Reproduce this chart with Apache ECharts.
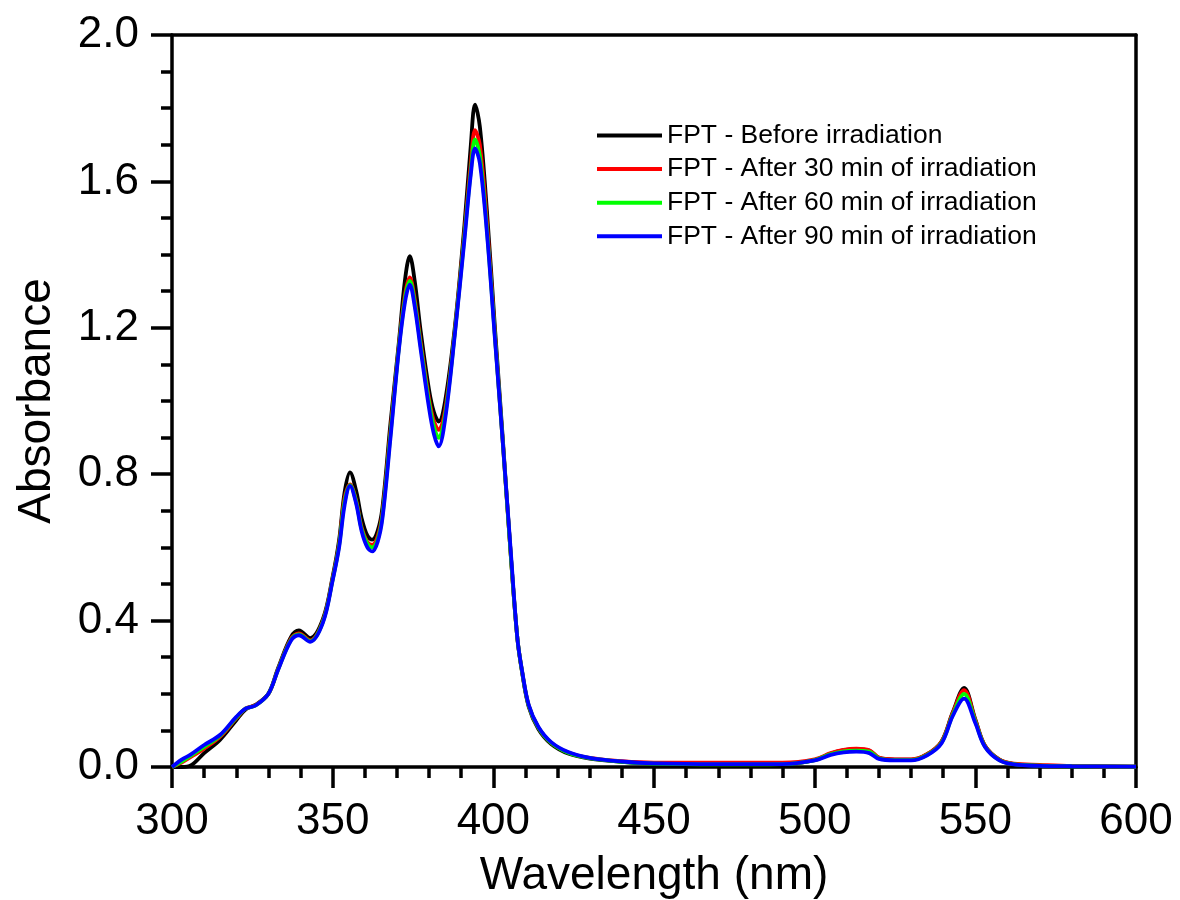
<!DOCTYPE html>
<html>
<head>
<meta charset="utf-8">
<script src="https://cdn.jsdelivr.net/npm/echarts@6/dist/echarts.min.js"></script>
<style>
html,body{margin:0;padding:0;background:#fff;}
#chart{width:1180px;height:900px;}
</style>
</head>
<body>
<div id="chart"></div>
<script>
const seriesNames = ['FPT - Before irradiation','FPT - After 30 min of irradiation','FPT - After 60 min of irradiation','FPT - After 90 min of irradiation'];
const wavelength = [300,303,306,310,315,320,323,326,330,333,337,339.5,343,347,350,352,353.7,355.4,357.3,359,360.8,362.3,364,365.5,368,370.6,372.5,374,375.5,377.4,380,381.5,383,385,388,391,393,394.3,395.8,398,400.5,403,405.5,407.5,409,411,414,418,423.5,430,440,450,470,490,500,505,509,513,517,520,525,530,535,539.5,543,546.5,550,553,557.5,562,570,580,600];
const before = [0,0,0.005,0.038,0.075,0.128,0.158,0.17,0.2,0.27,0.355,0.373,0.352,0.405,0.52,0.62,0.75,0.805,0.755,0.68,0.632,0.621,0.645,0.71,0.94,1.16,1.33,1.396,1.33,1.19,1.03,0.97,0.944,1.0,1.2,1.48,1.7,1.81,1.75,1.52,1.2,0.89,0.57,0.35,0.256,0.165,0.104,0.063,0.036,0.023,0.014,0.009,0.007,0.008,0.019,0.037,0.046,0.049,0.045,0.025,0.02,0.02,0.035,0.07,0.15,0.216,0.13,0.058,0.02,0.008,0.004,0.002,0.001];
const after30 = [0,0.012,0.028,0.05,0.083,0.133,0.16,0.169,0.2,0.267,0.35,0.365,0.346,0.4,0.515,0.61,0.735,0.772,0.728,0.655,0.615,0.607,0.63,0.695,0.92,1.15,1.29,1.338,1.28,1.16,1.005,0.945,0.921,0.975,1.19,1.46,1.65,1.74,1.7,1.49,1.18,0.88,0.57,0.35,0.258,0.168,0.108,0.066,0.039,0.025,0.016,0.012,0.012,0.012,0.021,0.038,0.047,0.05,0.046,0.026,0.021,0.021,0.035,0.07,0.148,0.21,0.128,0.058,0.02,0.009,0.006,0.003,0.001];
const after60 = [0,0.015,0.032,0.055,0.086,0.135,0.16,0.168,0.2,0.266,0.347,0.362,0.344,0.398,0.512,0.605,0.725,0.77,0.725,0.65,0.61,0.6,0.622,0.688,0.91,1.145,1.28,1.328,1.27,1.15,0.995,0.93,0.899,0.962,1.185,1.45,1.63,1.715,1.67,1.47,1.175,0.88,0.57,0.35,0.258,0.168,0.108,0.066,0.038,0.024,0.014,0.009,0.007,0.008,0.019,0.035,0.043,0.045,0.042,0.024,0.019,0.019,0.033,0.067,0.143,0.2,0.124,0.056,0.019,0.008,0.004,0.002,0.001];
const after90 = [0,0.02,0.035,0.06,0.088,0.137,0.16,0.168,0.2,0.265,0.345,0.36,0.342,0.395,0.51,0.6,0.715,0.768,0.72,0.645,0.6,0.589,0.615,0.68,0.9,1.14,1.27,1.318,1.26,1.14,0.98,0.91,0.876,0.95,1.18,1.44,1.62,1.69,1.65,1.46,1.17,0.88,0.58,0.35,0.26,0.17,0.11,0.068,0.04,0.025,0.015,0.01,0.008,0.008,0.018,0.033,0.04,0.042,0.038,0.022,0.018,0.018,0.032,0.065,0.14,0.187,0.12,0.055,0.018,0.007,0.003,0.002,0.001];
const xTicks = {min:300, max:600, interval:50};
const yTicks = {min:0, max:2, interval:0.4};
const colors = ['#000000','#ff0000','#00ff00','#0000ff'];

const allValues = [before, after30, after60, after90];
const FONT = '"Liberation Sans", Arial, sans-serif';
const chart = echarts.init(document.getElementById('chart'), null, {renderer:'canvas'});
const lineW = 3.5;
const option = {
  animation:false,
  backgroundColor:'#fff',
  grid:{left:172, right:44, top:35, bottom:133, containLabel:false, outerBoundsMode:'none'},
  legend:{
    orient:'vertical', left:592, top:117, itemWidth:65, itemHeight:4, itemGap:6.6,
    icon:'rect',
    textStyle:{fontFamily:FONT, fontSize:26.5, color:'#000', lineHeight:26},
    data:seriesNames
  },
  xAxis:[{
    type:'value', min:xTicks.min, max:xTicks.max, interval:xTicks.interval, position:'bottom',
    name:'Wavelength (nm)', nameLocation:'middle', nameGap:86,
    nameTextStyle:{fontFamily:FONT, fontSize:46, color:'#000'},
    axisLine:{onZero:false, lineStyle:{color:'#000', width:lineW}},
    axisTick:{show:true, length:21, lineStyle:{color:'#000', width:lineW}},
    minorTick:{show:true, splitNumber:5, length:11, lineStyle:{color:'#000', width:lineW}},
    splitLine:{show:false}, minorSplitLine:{show:false},
    axisLabel:{fontFamily:FONT, fontSize:44, color:'#000', margin:33}
  },{
    type:'value', min:xTicks.min, max:xTicks.max, position:'top',
    axisLine:{onZero:false, lineStyle:{color:'#000', width:lineW}},
    axisTick:{show:false}, axisLabel:{show:false}, splitLine:{show:false}
  }],
  yAxis:[{
    type:'value', min:yTicks.min, max:yTicks.max, interval:yTicks.interval, position:'left',
    name:'Absorbance', nameLocation:'middle', nameGap:112,
    nameTextStyle:{fontFamily:FONT, fontSize:46, color:'#000'},
    axisLine:{onZero:false, lineStyle:{color:'#000', width:lineW}},
    axisTick:{show:true, length:21, lineStyle:{color:'#000', width:lineW}},
    minorTick:{show:true, splitNumber:4, length:11, lineStyle:{color:'#000', width:lineW}},
    splitLine:{show:false}, minorSplitLine:{show:false},
    axisLabel:{fontFamily:FONT, fontSize:44, color:'#000', margin:33, formatter:v=>v.toFixed(1)}
  },{
    type:'value', min:yTicks.min, max:yTicks.max, position:'right',
    axisLine:{onZero:false, lineStyle:{color:'#000', width:lineW}},
    axisTick:{show:false}, axisLabel:{show:false}, splitLine:{show:false}
  }],
  series: seriesNames.map((name,i)=>({
    name, type:'line', xAxisIndex:0, yAxisIndex:0,
    data: wavelength.map((w,j)=>[w, allValues[i][j]]),
    smooth:0.35, showSymbol:false, symbol:'none',
    color:colors[i],
    lineStyle:{color:colors[i], width:3.8},
    z:2+i
  }))
};
chart.setOption(option);
</script>
</body>
</html>
